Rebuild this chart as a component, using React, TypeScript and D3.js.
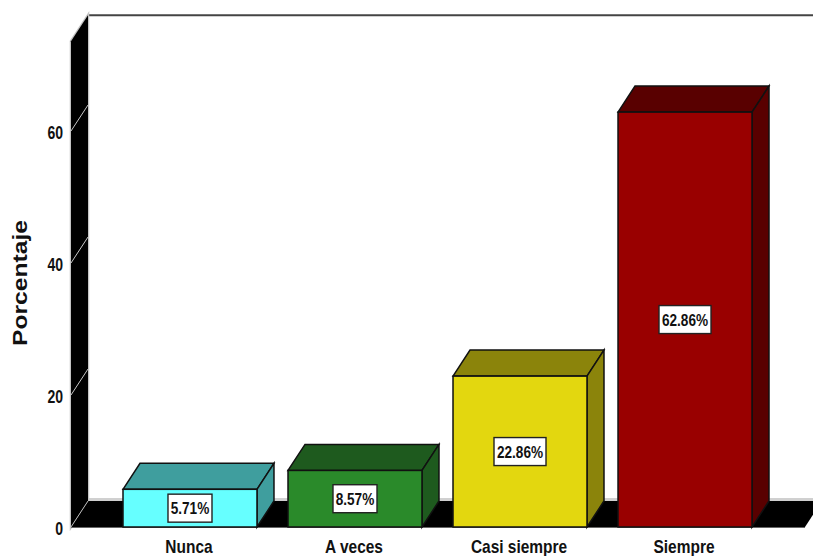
import React from "react";
import * as d3 from "d3";

const categories = ["Nunca", "A veces", "Casi siempre", "Siempre"];
const percentages = [5.71, 8.57, 22.86, 62.86];
const frontColors = ["#66FFFF", "#2A8A2A", "#E3D70F", "#990000"];
const sideColors = ["#3F9E9E", "#1E5A1E", "#8B840B", "#590000"];
const yTicks = [0, 20, 40, 60];
const yMax = 73.6;

const WIDTH = 813;
const HEIGHT = 556;
const DX = 17;
const DY = -26;
const FRONT_LEFT = 71;
const FRONT_BOTTOM = 527;

const y = d3.scaleLinear().domain([0, yMax]).range([FRONT_BOTTOM, FRONT_BOTTOM - yMax * 6.6]);
const x = d3.scaleBand<string>().domain(categories).range([123, 752]).paddingInner(0.188).paddingOuter(0);

const pts = (list: [number, number][]) => list.map((p) => p.join(",")).join(" ");

// Bold Liberation Sans squeezed horizontally to get a condensed look.
function NarrowText(props: {
  x: number;
  y: number;
  anchor: "middle" | "end";
  size: number;
  squeeze: number;
  children: React.ReactNode;
}) {
  return (
    <text
      transform={`translate(${props.x},${props.y}) scale(${props.squeeze},1)`}
      textAnchor={props.anchor}
      fontFamily="'Liberation Sans', sans-serif"
      fontWeight="bold"
      fontSize={props.size}
      fill="#111"
    >
      {props.children}
    </text>
  );
}

export default function App() {
  const top = y(yMax);
  const backLeft = FRONT_LEFT + DX;
  const backBottom = FRONT_BOTTOM + DY;
  const wall = pts([
    [FRONT_LEFT, top],
    [backLeft, top + DY],
    [backLeft, backBottom],
    [FRONT_LEFT, FRONT_BOTTOM],
  ]);
  return (
    <svg
      width={WIDTH}
      height={HEIGHT}
      viewBox={`0 0 ${WIDTH} ${HEIGHT}`}
      style={{ position: "absolute", left: 0, top: 0, background: "#fff" }}
    >
      {/* back wall edge and floor seam */}
      <line x1={backLeft} x2={WIDTH} y1={top + DY} y2={top + DY} stroke="#444" strokeWidth={2} />
      <rect x={backLeft} y={backBottom - 3} width={WIDTH - backLeft} height={3} fill="#d0d0d0" />

      {/* left wall */}
      <polygon points={wall} fill="#000" stroke="#c4c4c4" strokeWidth={2.5} />
      <polygon points={wall} fill="#000" />

      {/* floor */}
      <polygon
        points={pts([
          [FRONT_LEFT, FRONT_BOTTOM],
          [backLeft, backBottom],
          [WIDTH + 9, backBottom],
          [805, FRONT_BOTTOM],
        ])}
        fill="#000"
      />
      <line x1={FRONT_LEFT} y1={FRONT_BOTTOM} x2={backLeft} y2={backBottom} stroke="#bbb" />
      <line x1={FRONT_LEFT} y1={FRONT_BOTTOM + 0.5} x2={805} y2={FRONT_BOTTOM + 0.5} stroke="#666" />

      {/* value axis */}
      {yTicks.map((t) => (
        <g key={t}>
          {t > 0 && (
            <line x1={FRONT_LEFT} y1={y(t)} x2={backLeft} y2={y(t) + DY} stroke="#c8c8c8" strokeWidth={1} />
          )}
          <NarrowText x={63} y={y(t) + 8} anchor="end" size={18} squeeze={0.78}>
            {t}
          </NarrowText>
        </g>
      ))}
      <text
        transform="translate(27,283) rotate(-90)"
        textAnchor="middle"
        fontFamily="'Liberation Sans', sans-serif"
        fontWeight="bold"
        fontSize={20}
        textLength={126}
        lengthAdjust="spacingAndGlyphs"
        fill="#111"
      >
        Porcentaje
      </text>

      {/* bars */}
      {categories.map((c, i) => {
        const left = x(c) as number;
        const right = left + x.bandwidth();
        const yTop = y(percentages[i]);
        const mid = (left + right) / 2;
        const labelY = (yTop + FRONT_BOTTOM) / 2;
        const boxW = i < 2 ? 44 : 52;
        return (
          <g key={c}>
            <polygon
              points={pts([
                [left, yTop],
                [left + DX, yTop + DY],
                [right + DX, yTop + DY],
                [right, yTop],
              ])}
              fill={sideColors[i]}
              stroke="#111"
              strokeWidth={1.5}
            />
            <polygon
              points={pts([
                [right, yTop],
                [right + DX, yTop + DY],
                [right + DX, FRONT_BOTTOM + DY],
                [right, FRONT_BOTTOM],
              ])}
              fill={sideColors[i]}
              stroke="#111"
              strokeWidth={1.5}
            />
            <rect
              x={left}
              y={yTop}
              width={x.bandwidth()}
              height={FRONT_BOTTOM - yTop}
              fill={frontColors[i]}
              stroke="#111"
              strokeWidth={1.5}
            />
            <rect
              x={mid - boxW / 2}
              y={labelY - 14}
              width={boxW}
              height={28}
              fill="#fff"
              stroke="#222"
              strokeWidth={1.4}
            />
            <NarrowText x={mid} y={labelY + 6} anchor="middle" size={17} squeeze={0.8}>
              {percentages[i].toFixed(2)}%
            </NarrowText>
            <NarrowText x={mid - 1} y={553} anchor="middle" size={18} squeeze={0.86}>
              {c}
            </NarrowText>
          </g>
        );
      })}
    </svg>
  );
}
